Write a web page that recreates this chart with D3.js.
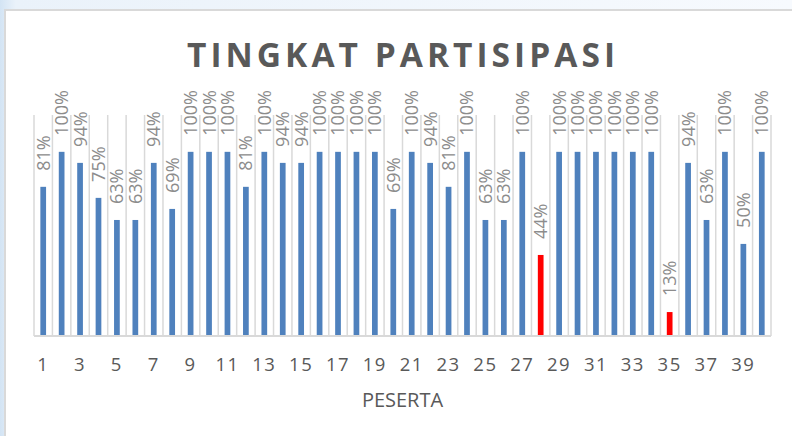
<!DOCTYPE html>
<html>
<head>
<meta charset="utf-8">
<title>Tingkat Partisipasi</title>
<style>
  body { margin: 0; background: #ffffff; }
  svg { display: block; }
</style>
</head>
<body>
<script src="https://d3js.org/d3.v7.min.js"></script>
<script>
    // data
    var peserta = d3.range(1, 41);
    var partisipasi = [81, 100, 94, 75, 63, 63, 94, 69, 100, 100,
        100, 81, 100, 94, 94, 100, 100, 100, 100, 69,
        100, 94, 81, 100, 63, 63, 100, 44, 100, 100,
        100, 100, 100, 100, 13, 94, 63, 100, 50, 100];
    var merah = [28, 35];   // bars drawn in red
    var tickLabels = peserta.filter(function (d) { return d % 2 === 1; });

    var W = 792, H = 436;
    var margin = { top: 115, right: 21, bottom: 100, left: 34 };
    var width = W - margin.left - margin.right,
        height = H - margin.top - margin.bottom;

    var svg = d3.select("body").append("svg")
        .attr("width", W)
        .attr("height", H);

    // outer background and frame
    var grad = svg.append("defs").append("linearGradient")
        .attr("id", "bg").attr("x1", "0").attr("x2", "1").attr("y1", "0").attr("y2", "0");
    grad.append("stop").attr("offset", "0").attr("stop-color", "#d3e4f4");
    grad.append("stop").attr("offset", "0.02").attr("stop-color", "#eaf2fa");
    grad.append("stop").attr("offset", "1").attr("stop-color", "#f7fafe");
    svg.append("rect").attr("width", W).attr("height", H).attr("fill", "url(#bg)");
    svg.append("rect")
        .attr("x", 5).attr("y", 10)
        .attr("width", W).attr("height", H)
        .attr("fill", "#ffffff")
        .attr("stroke", "#d9d9d9")
        .attr("stroke-width", 2);

    svg.append("text")
        .attr("x", 401).attr("y", 67)
        .attr("text-anchor", "middle")
        .attr("textLength", 428)
        .attr("lengthAdjust", "spacing")
        .style("font-family", "'Open Sans', sans-serif")
        .style("font-weight", "bold")
        .style("font-size", "33.5px")
        .style("fill", "#595959")
        .text("TINGKAT PARTISIPASI");

    var g = svg.append("g")
        .attr("transform", "translate(" + margin.left + "," + margin.top + ")");

    var x = d3.scaleBand().domain(peserta).range([0, width]).paddingInner(0.69).paddingOuter(0.345);
    var y = d3.scaleLinear().domain([0, 120]).range([height, 0]);
    var step = x.step();

    // vertical gridlines at category boundaries
    g.selectAll(".grid")
        .data(d3.range(0, peserta.length + 1))
        .enter().append("line")
        .attr("x1", function (i) { return i * step; })
        .attr("x2", function (i) { return i * step; })
        .attr("y1", y(120))
        .attr("y2", y(0))
        .attr("stroke", "#d9d9d9")
        .attr("stroke-width", 1.5);

    g.selectAll(".bar")
        .data(partisipasi)
        .enter().append("rect")
        .attr("x", function (d, i) { return x(peserta[i]); })
        .attr("width", x.bandwidth())
        .attr("y", function (d) { return y(d); })
        .attr("height", function (d) { return y(0) - y(d); })
        .attr("fill", function (d, i) {
            return merah.indexOf(peserta[i]) >= 0 ? "#ff0000" : "#4f81bd";
        });

    // value labels, rotated
    g.selectAll(".lbl")
        .data(partisipasi)
        .enter().append("text")
        .attr("transform", function (d, i) {
            return "translate(" + (x(peserta[i]) + x.bandwidth() / 2) + "," + (y(d) - 16) + ") rotate(-90)";
        })
        .attr("dy", "0.36em")
        .style("font-family", "'Open Sans', sans-serif")
        .style("font-size", "18px")
        .style("fill", "#8c8c8c")
        .text(function (d) { return d + "%"; });

    // baseline
    g.append("line")
        .attr("x1", 0).attr("x2", width)
        .attr("y1", y(0)).attr("y2", y(0))
        .attr("stroke", "#d9d9d9")
        .attr("stroke-width", 2);

    g.selectAll(".tick-lbl")
        .data(tickLabels)
        .enter().append("text")
        .attr("x", function (d) { return x(d) + x.bandwidth() / 2; })
        .attr("y", y(0) + 34.5)
        .attr("text-anchor", "middle")
        .style("font-family", "'Open Sans', sans-serif")
        .style("font-size", "18.5px")
        .style("letter-spacing", "1.5px")
        .style("fill", "#595959")
        .text(function (d) { return d; });

    svg.append("text")
        .attr("x", 402.5).attr("y", 407)
        .attr("text-anchor", "middle")
        .style("font-family", "'Open Sans', sans-serif")
        .style("font-size", "20px")
        .style("fill", "#595959")
        .text("PESERTA");
</script>
</body>
</html>
